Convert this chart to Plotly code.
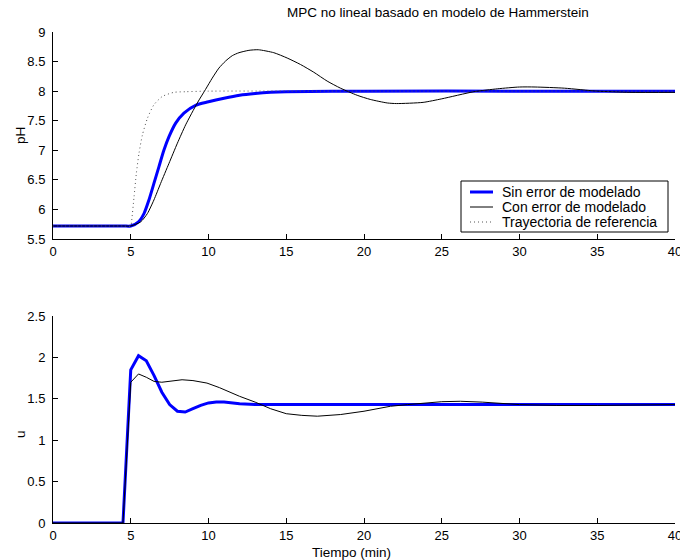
import plotly.graph_objects as go
from plotly.subplots import make_subplots

# --- pH response (top panel) ---
t_ph_nom = [0, 4.5, 5, 5.5, 5.85, 6.17, 6.49, 6.81, 7.13, 7.46, 7.89, 8.42, 9.17,
            10.0, 11.0, 12.0, 13.0, 14.0, 15.0, 20, 30, 40]
ph_nom = [5.72, 5.72, 5.72, 5.79, 5.93, 6.16, 6.44, 6.72, 7.0, 7.23, 7.46, 7.63, 7.76,
          7.82, 7.88, 7.93, 7.96, 7.98, 7.99, 8.0, 8.0, 8.0]

t_ph_err = [0, 4.5, 5, 5.64, 6.07, 6.49, 6.92, 7.46, 8.0, 8.53, 9.28, 9.81, 10.24,
            10.67, 11.1, 11.53, 11.96, 12.6, 13.2, 14.2, 15.06, 15.92, 16.77, 17.63,
            18.49, 19.56, 20.4, 21.5, 22.1, 23.8, 25, 27.06, 28.6, 30, 31, 32.9, 35,
            37.1, 40]
ph_err = [5.72, 5.72, 5.72, 5.79, 5.93, 6.16, 6.44, 6.78, 7.12, 7.43, 7.80, 8.03, 8.22,
          8.39, 8.51, 8.60, 8.65, 8.69, 8.70, 8.65, 8.56, 8.45, 8.32, 8.17,
          8.05, 7.93, 7.86, 7.80, 7.79, 7.81, 7.87, 7.99, 8.04, 8.07, 8.07, 8.05, 8.0,
          7.98, 7.98]

t_ref = [0, 4.5, 5, 5.05, 5.21, 5.36, 5.53, 5.75, 6.07, 6.49, 7.03, 7.78, 8.53, 10, 20, 40]
ph_ref = [5.72, 5.72, 5.72, 5.79, 6.21, 6.61, 6.95, 7.26, 7.54, 7.77, 7.91, 7.98, 7.99,
          8.0, 8.0, 8.0]

# --- control action (bottom panel) ---
t_u_nom = [0, 4.5, 5, 5.5, 6, 6.5, 7, 7.5, 8, 8.5, 9, 9.5, 10, 10.5, 11, 11.5, 12, 13, 14, 40]
u_nom = [0, 0, 1.85, 2.02, 1.96, 1.78, 1.58, 1.43, 1.35, 1.34, 1.38, 1.42, 1.45, 1.46,
         1.46, 1.45, 1.44, 1.43, 1.43, 1.43]

t_u_err = [0, 4.5, 5, 5.5, 6, 6.5, 7, 7.5, 8.3, 9, 9.9, 10.7, 12, 13, 14, 15, 16, 17,
           18.5, 20, 21.7, 22.8, 25, 26.2, 27.6, 30, 32.4, 35, 40]
u_err = [0, 0, 1.70, 1.80, 1.76, 1.71, 1.70, 1.71, 1.73, 1.72, 1.69, 1.635, 1.53, 1.46,
         1.38, 1.32, 1.30, 1.29, 1.31, 1.35, 1.41, 1.43, 1.465, 1.47, 1.46, 1.43, 1.42,
         1.42, 1.43]

series_names = ["Sin error de modelado", "Con error de modelado", "Trayectoria de referencia"]

x_ticks = [0, 5, 10, 15, 20, 25, 30, 35, 40]
ph_ticks = [5.5, 6, 6.5, 7, 7.5, 8, 8.5, 9]
u_ticks = [0, 0.5, 1, 1.5, 2, 2.5]

FONT = "Liberation Sans, Arial, Helvetica, sans-serif"
FS = 13

# line styles per series
styles = [
    dict(color="#0000ff", width=3),
    dict(color="#000000", width=1),
    dict(color="#555555", width=1, dash="1px,3px"),
]

# pixel geometry of the figure
W, H = 680, 560
ML, MR, MT, MB = 53, 5, 32, 37
PW, PH = W - ML - MR, H - MT - MB


def px_x(x):
    return (x - ML) / PW


def px_y(y):
    return (H - MB - y) / PH


fig = make_subplots(rows=2, cols=1, vertical_spacing=0.0)

fig.add_trace(go.Scatter(x=t_ph_nom, y=ph_nom, mode="lines", name=series_names[0],
                         line=dict(**styles[0], shape="spline", smoothing=0.8)),
              row=1, col=1)
fig.add_trace(go.Scatter(x=t_ph_err, y=ph_err, mode="lines", name=series_names[1],
                         line=dict(**styles[1], shape="spline", smoothing=0.6)),
              row=1, col=1)
fig.add_trace(go.Scatter(x=t_ref, y=ph_ref, mode="lines", name=series_names[2],
                         line=dict(**styles[2], shape="spline", smoothing=0.6)),
              row=1, col=1)

fig.add_trace(go.Scatter(x=t_u_nom, y=u_nom, mode="lines", name=series_names[0],
                         line=styles[0]), row=2, col=1)
fig.add_trace(go.Scatter(x=t_u_err, y=u_err, mode="lines", name=series_names[1],
                         line=styles[1]), row=2, col=1)

axis_common = dict(showline=True, linecolor="black", linewidth=1, mirror=False,
                   ticks="inside", ticklen=5, tickcolor="black", showgrid=False,
                   zeroline=False, automargin=False, ticklabeloverflow="allow",
                   tickfont=dict(family=FONT, size=FS, color="black"))

top_dom = [px_y(239), 1.0]
bot_dom = [0.0, px_y(316)]

fig.update_xaxes(range=[0, 40], tickvals=x_ticks, ticklabelstandoff=0, **axis_common)
fig.update_layout(
    xaxis=dict(domain=[0, 1]),
    xaxis2=dict(domain=[0, 1], layer="below traces"),
    yaxis=dict(range=[5.5, 9], tickvals=ph_ticks, domain=top_dom, ticklabelstandoff=4,
               **axis_common),
    yaxis2=dict(range=[0, 2.5], tickvals=u_ticks, domain=bot_dom, ticklabelstandoff=4,
                layer="below traces", **axis_common),
)

# boxed legend in the lower right of the pH panel
box_l, box_r, box_t, box_b = 461, 668, 181, 232
row_y = [192, 207, 222]
shapes = [dict(type="rect", xref="paper", yref="paper",
               x0=px_x(box_l), x1=px_x(box_r), y0=px_y(box_b), y1=px_y(box_t),
               line=dict(color="black", width=1), fillcolor="white", layer="above")]
annotations = []
for name, st, ry in zip(series_names, styles, row_y):
    shapes.append(dict(type="line", xref="paper", yref="paper",
                       x0=px_x(470), x1=px_x(493), y0=px_y(ry), y1=px_y(ry),
                       line=st, layer="above"))
    annotations.append(dict(text=name, xref="paper", yref="paper", x=px_x(500),
                            y=px_y(ry), xanchor="left", yanchor="middle", showarrow=False,
                            font=dict(family=FONT, size=14, color="black")))

annotations += [
    dict(text="MPC no lineal basado en modelo de Hammerstein", xref="paper", yref="paper",
         x=px_x(438), y=px_y(13), xanchor="center", yanchor="middle",
         showarrow=False, font=dict(family=FONT, size=13.5)),
    dict(text="pH", xref="paper", yref="paper", x=px_x(20), y=px_y(136),
         xanchor="center", yanchor="middle", textangle=-90, showarrow=False,
         font=dict(family=FONT, size=13.5)),
    dict(text="u", xref="paper", yref="paper", x=px_x(20), y=px_y(434),
         xanchor="center", yanchor="middle", textangle=-90, showarrow=False,
         font=dict(family=FONT, size=13.5)),
    dict(text="Tiempo (min)", xref="paper", yref="paper", x=px_x(351),
         y=px_y(552), xanchor="center", yanchor="middle", showarrow=False,
         font=dict(family=FONT, size=13.5)),
]

fig.update_layout(
    width=W, height=H,
    margin=dict(l=ML, r=MR, t=MT, b=MB, autoexpand=False),
    paper_bgcolor="white", plot_bgcolor="white",
    font=dict(family=FONT, size=FS, color="black"),
    showlegend=False,
    shapes=shapes,
    annotations=annotations,
)

fig.write_html("out.html")
